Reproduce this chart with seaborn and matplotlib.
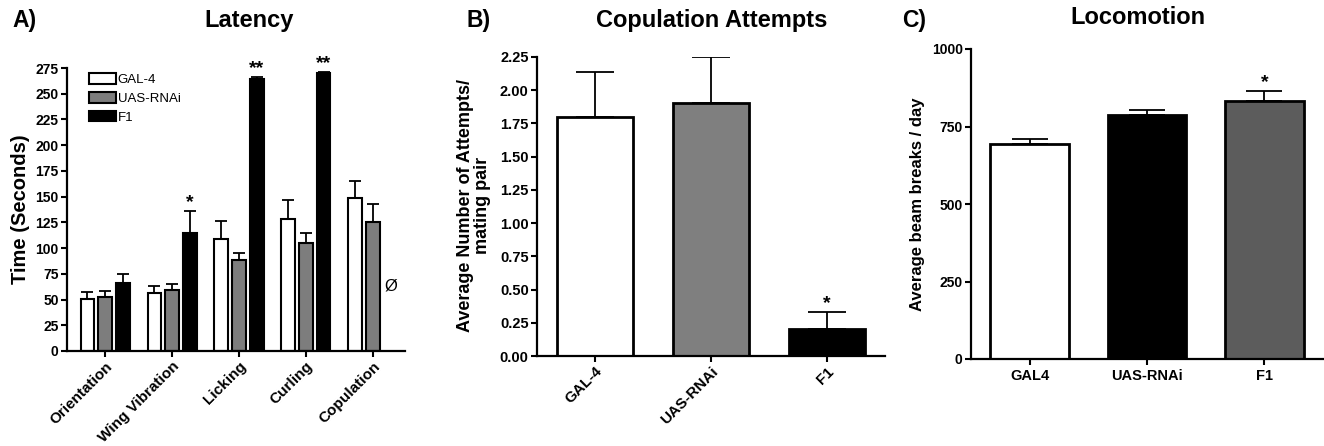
#!/usr/bin/env python3
# three bar panels: latency, copulation attempts, locomotion

import numpy as np
import pandas as pd
import matplotlib
matplotlib.use("Agg")
import matplotlib.pyplot as plt
from matplotlib.patches import Patch
import seaborn as sns

# ---- data ----
behaviours = ['Orientation', 'Wing Vibration', 'Licking', 'Curling', 'Copulation']
genotypes = ['GAL-4', 'UAS-RNAi', 'F1']

lat_gal4 = [51, 56, 109, 128, 148.5]
lat_gal4_err = [6, 7, 17.5, 18.5, 16.5]
lat_uas = [52, 59.5, 88, 104.5, 125]
lat_uas_err = [6, 5.5, 7.5, 10, 18]
lat_f1 = [66, 114.5, 264, 270.5, np.nan]   # no copulation in F1
lat_f1_err = [9, 21.5, 2, 0.8, np.nan]
lat_stars = ['', '*', '**', '**', '']

cop_labels = ['GAL-4', 'UAS-RNAi', 'F1']
cop_mean = [1.80, 1.905, 0.203]
cop_err = [0.335, 0.345, 0.131]
cop_stars = ['', '', '*']

loco_labels = ['GAL4', 'UAS-RNAi', 'F1']
loco_mean = [693.5, 787, 832]
loco_err = [17.5, 16, 32.5]
loco_stars = ['', '', '*']

W, H = 1324, 446

sns.set_style('ticks')
plt.rcParams['font.family'] = ['Liberation Sans', 'DejaVu Sans']
plt.rcParams['text.color'] = 'black'
plt.rcParams['axes.labelcolor'] = 'black'
plt.rcParams['axes.edgecolor'] = 'black'
plt.rcParams['xtick.color'] = 'black'
plt.rcParams['ytick.color'] = 'black'
plt.rcParams['axes.linewidth'] = 1.6
plt.rcParams['xtick.major.width'] = 1.5
plt.rcParams['ytick.major.width'] = 1.5
plt.rcParams['xtick.major.size'] = 4
plt.rcParams['ytick.major.size'] = 4


def axes_px(fig, left, right, top, bottom):
    return fig.add_axes([left / W, 1 - bottom / H, (right - left) / W, (bottom - top) / H])


def add_err(ax, xs, ys, errs, capsize):
    ax.errorbar(xs, ys, yerr=[np.zeros(len(errs)), errs], fmt='none',
                ecolor='black', elinewidth=1.3, capsize=capsize, capthick=1.3, zorder=1)


def add_stars(ax, xs, tops, stars, size):
    for x, t, s in zip(xs, tops, stars):
        if s:
            ax.annotate(s, (x, t), xytext=(0, 0), textcoords='offset points',
                        ha='center', va='bottom', fontsize=size, fontweight='bold',
                        annotation_clip=False)


def style_ax(ax):
    sns.despine(ax=ax)
    for lab in ax.get_xticklabels() + ax.get_yticklabels():
        lab.set_fontweight('bold')


fig = plt.figure(figsize=(W / 100, H / 100), dpi=100)

# ---- A) Latency ----
lat = pd.DataFrame({
    'behaviour': behaviours * 3,
    'genotype': np.repeat(genotypes, len(behaviours)),
    'time': lat_gal4 + lat_uas + lat_f1,
    'err': lat_gal4_err + lat_uas_err + lat_f1_err,
}).dropna()

axA = axes_px(fig, 67, 405, 68, 351)
sns.barplot(data=lat, x='behaviour', y='time', hue='genotype', order=behaviours,
            hue_order=genotypes, palette=['white', '#7d7d7d', 'black'],
            edgecolor='black', linewidth=1.5, width=0.8, gap=0.25,
            errorbar=None, legend=False, ax=axA, zorder=2)
for cont, g in zip(axA.containers, genotypes):
    sub = lat[lat['genotype'] == g]
    xs = [b.get_x() + b.get_width() / 2 for b in cont]
    add_err(axA, xs, sub['time'].values, sub['err'].values, capsize=4)
    if g == 'F1':
        tops = sub['time'].values + sub['err'].values
        add_stars(axA, xs, tops, lat_stars[:len(xs)], 14)
        off = xs[0] - 0
        axA.text(4 + off, 63, 'Ø', ha='center', va='center', fontsize=12)

axA.set_ylim(0, 275)
axA.set_yticks(np.arange(0, 276, 25))
axA.set_xlim(-0.57, 4.48)
axA.set_xlabel('')
axA.set_ylabel('Time (Seconds)', fontsize=14.5, fontweight='bold', va='center')
axA.yaxis.set_label_coords(-0.138, 0.5)
axA.tick_params(axis='y', labelsize=10, pad=2)
axA.tick_params(axis='x', labelsize=11, pad=2)
plt.setp(axA.get_xticklabels(), rotation=45, ha='right', rotation_mode='anchor')
style_ax(axA)
handles = [Patch(facecolor=c, edgecolor='black', linewidth=1.5, label=g)
           for c, g in zip(['white', '#7d7d7d', 'black'], genotypes)]
axA.legend(handles=handles, loc='upper left', bbox_to_anchor=(0.05, 1.0),
           frameon=False, fontsize=9.5, handlelength=2.0, handleheight=0.85,
           handletextpad=0.15, labelspacing=0.45, borderaxespad=0)

# ---- B) Copulation attempts ----
axB = axes_px(fig, 537, 885, 57, 356)
sns.barplot(x=cop_labels, y=cop_mean, hue=cop_labels, palette=['white', '#7f7f7f', 'black'],
            edgecolor='black', linewidth=2, width=0.66, legend=False, ax=axB, zorder=2)
xsB = [c[0].get_x() + c[0].get_width() / 2 for c in axB.containers]
add_err(axB, xsB, cop_mean, cop_err, capsize=14)
add_stars(axB, xsB, np.add(cop_mean, cop_err), cop_stars, 14)
axB.set_ylim(0, 2.25)
axB.set_yticks(np.arange(0, 2.26, 0.25))
axB.yaxis.set_major_formatter(plt.FormatStrFormatter('%.2f'))
axB.set_xlim(-0.5, 2.5)
axB.set_ylabel('Average Number of Attempts/\nmating pair', fontsize=13,
               fontweight='bold', va='center', linespacing=1.0)
axB.yaxis.set_label_coords(-0.182, 0.505)
axB.tick_params(axis='y', labelsize=10.5, pad=2)
axB.tick_params(axis='x', labelsize=11, pad=2)
plt.setp(axB.get_xticklabels(), rotation=45, ha='right', rotation_mode='anchor')
style_ax(axB)

# ---- C) Locomotion ----
axC = axes_px(fig, 971, 1323, 49, 359)
sns.barplot(x=loco_labels, y=loco_mean, hue=loco_labels, palette=['white', 'black', '#5c5c5c'],
            edgecolor='black', linewidth=2, width=0.67, legend=False, ax=axC, zorder=2)
xsC = [c[0].get_x() + c[0].get_width() / 2 for c in axC.containers]
add_err(axC, xsC, loco_mean, loco_err, capsize=13)
add_stars(axC, xsC, np.add(loco_mean, loco_err), loco_stars, 14)
axC.set_ylim(0, 1000)
axC.set_yticks([0, 250, 500, 750, 1000])
axC.set_xlim(-0.5, 2.5)
axC.set_ylabel('Average beam breaks / day', fontsize=12, fontweight='bold', va='center')
axC.yaxis.set_label_coords(-0.151, 0.5)
axC.tick_params(axis='y', labelsize=10, pad=2)
axC.tick_params(axis='x', labelsize=10.5, pad=3)
style_ax(axC)

# ---- panel letters and titles ----
for x, lab in [(12, 'A)'), (467, 'B)'), (902, 'C)')]:
    fig.text(x / W, 1 - 21 / H, lab, ha='left', va='center', fontsize=16.5, fontweight='bold')
for x, y, t in [(249, 20, 'Latency'), (712, 20, 'Copulation Attempts'), (1138, 18, 'Locomotion')]:
    fig.text(x / W, 1 - y / H, t, ha='center', va='center', fontsize=17, fontweight='bold')

fig.savefig('out.png', dpi=100)
